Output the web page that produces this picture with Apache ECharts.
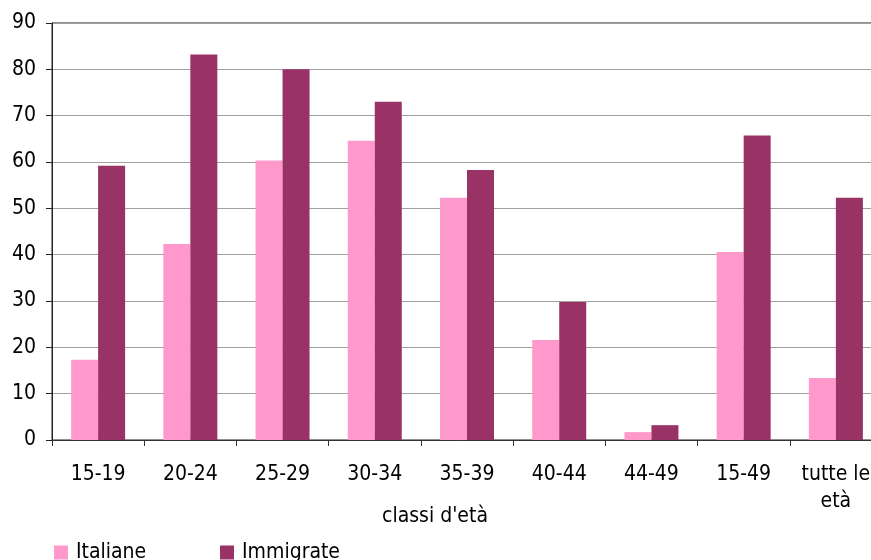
<!DOCTYPE html>
<html>
<head>
<meta charset="utf-8">
<script src="https://cdn.jsdelivr.net/npm/echarts@6/dist/echarts.min.js"></script>
<style>
  html, body { margin: 0; padding: 0; background: #fff; }
  #chart { width: 871px; height: 560px; }
</style>
</head>
<body>
<div id="chart"></div>
<script>
// classi d'età
const categories = ["15-19", "20-24", "25-29", "30-34", "35-39", "40-44", "44-49", "15-49", "tutte le\netà"];
const italiane = [17.3, 42.3, 60.3, 64.6, 52.3, 21.6, 1.7, 40.6, 13.4];
const immigrate = [59.2, 83.2, 80.0, 73.0, 58.3, 29.8, 3.2, 65.7, 52.3];
const yTicks = { min: 0, max: 90, interval: 10 };

const font = "DejaVu Sans Condensed";
const myChart = echarts.init(document.getElementById("chart"));

const option = {
  animation: false,
  textStyle: { fontFamily: font, color: "#000" },
  // il riquadro del grafico esce a destra dalla pagina, come nell'originale
  grid: {
    left: 52, top: 23, width: 830, height: 417,
    outerBoundsMode: "none",
    show: true, borderColor: "#222", borderWidth: 1, backgroundColor: "transparent"
  },
  legend: [
    {
      data: ["Italiane"], left: 49, top: 537, itemWidth: 14, itemHeight: 14, itemGap: 0,
      icon: "rect", textStyle: { fontFamily: font, fontSize: 21, color: "#000", padding: [0, 0, 0, 3] }
    },
    {
      data: ["Immigrate"], left: 215, top: 537, itemWidth: 14, itemHeight: 14, itemGap: 0,
      icon: "rect", textStyle: { fontFamily: font, fontSize: 21, color: "#000", padding: [0, 0, 0, 3] }
    }
  ],
  xAxis: {
    type: "category",
    data: categories,
    name: "classi d'età",
    nameLocation: "middle",
    nameGap: 66,
    nameMoveOverlap: false,
    nameTextStyle: { fontFamily: font, fontSize: 21, color: "#000", padding: [0, 64, 0, 0] },
    axisLine: { lineStyle: { color: "#333", width: 1 } },
    axisTick: { show: true, length: 6, lineStyle: { color: "#333" } },
    axisLabel: { fontFamily: font, fontSize: 21, color: "#000", margin: 21, lineHeight: 27, interval: 0 }
  },
  yAxis: {
    type: "value",
    min: yTicks.min, max: yTicks.max, interval: yTicks.interval,
    axisLine: { show: true, lineStyle: { color: "#222", width: 1 } },
    axisTick: { show: true, length: 6, lineStyle: { color: "#222" } },
    axisLabel: { fontFamily: font, fontSize: 21, color: "#000", margin: 16 },
    splitLine: { show: true, lineStyle: { color: "#a0a0a0", width: 1 } }
  },
  series: [
    {
      name: "Italiane", type: "bar", data: italiane,
      itemStyle: { color: "#FF99CC" },
      barWidth: 27, barGap: "0%"
    },
    {
      name: "Immigrate", type: "bar", data: immigrate,
      itemStyle: { color: "#993366" },
      barWidth: 27, barGap: "0%"
    }
  ]
};

myChart.setOption(option);
</script>
</body>
</html>
